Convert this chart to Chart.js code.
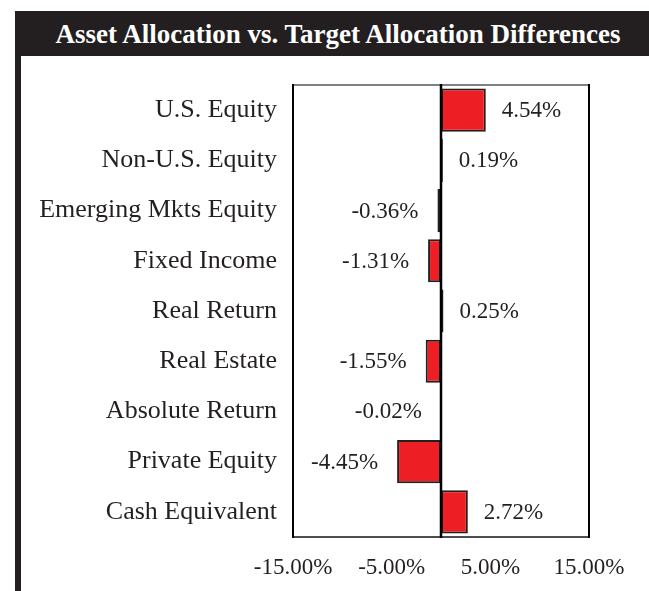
<!DOCTYPE html>
<html>
<head>
<meta charset="utf-8">
<script src="https://cdn.jsdelivr.net/npm/chart.js@4"></script>
<style>
    body { margin: 0; background: #ffffff; }
    #wrap { position: relative; width: 649px; height: 591px; overflow: hidden; }
    #titleBar {
        position: absolute; left: 15px; top: 11px; width: 634px; height: 45px;
        background: #231f20; color: #ffffff;
        font: bold 27px "Liberation Serif", "Times New Roman", serif;
        line-height: 46px; text-align: center; padding-left: 12px; box-sizing: border-box;
        white-space: nowrap;
    }
    #leftBar { position: absolute; left: 15px; top: 56px; width: 6px; height: 535px; background: #231f20; }
    #chart { position: absolute; left: 0; top: 0; }
</style>
</head>
<body>
<div id="wrap">
    <canvas id="chart" width="649" height="591"></canvas>
    <div id="titleBar">Asset Allocation vs. Target Allocation Differences</div>
    <div id="leftBar"></div>
</div>
<script>
const categories = ['U.S. Equity', 'Non-U.S. Equity', 'Emerging Mkts Equity', 'Fixed Income',
    'Real Return', 'Real Estate', 'Absolute Return', 'Private Equity', 'Cash Equivalent'];
const differences = [4.54, 0.19, -0.36, -1.31, 0.25, -1.55, -0.02, -4.45, 2.72];
const xTickValues = [-15, -5, 5, 15];

const textColor = '#231f20';
const serif = '"Liberation Serif", "Times New Roman", serif';

function pct(v) {
    return v.toFixed(2) + '%';
}

// box round the plot area plus the zero line
const frame = {
    id: 'frame',
    afterDatasetsDraw(chart) {
        const a = chart.chartArea;
        const ctx = chart.ctx;
        ctx.save();
        ctx.lineWidth = 2;
        ctx.strokeStyle = '#808080';
        ctx.beginPath(); ctx.moveTo(a.left, a.top); ctx.lineTo(a.right, a.top); ctx.stroke();
        ctx.strokeStyle = '#4d4d4d';
        ctx.beginPath(); ctx.moveTo(a.left, a.bottom); ctx.lineTo(a.right, a.bottom); ctx.stroke();
        ctx.strokeStyle = '#000000';
        ctx.beginPath(); ctx.moveTo(a.left, a.top - 1); ctx.lineTo(a.left, a.bottom + 1); ctx.stroke();
        ctx.beginPath(); ctx.moveTo(a.right, a.top - 1); ctx.lineTo(a.right, a.bottom + 1); ctx.stroke();
        const x0 = chart.scales.x.getPixelForValue(0);
        ctx.lineWidth = 2.5;
        ctx.beginPath(); ctx.moveTo(x0, a.top - 1); ctx.lineTo(x0, a.bottom + 1); ctx.stroke();
        ctx.restore();
    }
};

// value labels beside each bar
const barLabels = {
    id: 'barLabels',
    afterDatasetsDraw(chart) {
        const ctx = chart.ctx;
        const meta = chart.getDatasetMeta(0);
        ctx.save();
        ctx.font = '23px ' + serif;
        ctx.fillStyle = textColor;
        ctx.textBaseline = 'middle';
        meta.data.forEach((bar, i) => {
            const v = differences[i];
            if (v >= 0) {
                ctx.textAlign = 'left';
                ctx.fillText(pct(v), bar.x + 16, bar.y + 1);
            } else {
                ctx.textAlign = 'right';
                ctx.fillText(pct(v), bar.x - 19, bar.y + 1);
            }
        });
        ctx.restore();
    }
};

new Chart(document.getElementById('chart'), {
    type: 'bar',
    data: {
        labels: categories,
        datasets: [{
            data: differences,
            backgroundColor: '#ed1f24',
            borderColor: '#231f20',
            borderWidth: 2,
            borderSkipped: false,
            barPercentage: 0.86,
            categoryPercentage: 1
        }]
    },
    options: {
        indexAxis: 'y',
        responsive: false,
        animation: false,
        layout: { padding: { top: 85, right: 60, bottom: 0, left: 0 } },
        plugins: {
            legend: { display: false },
            tooltip: { enabled: false },
            title: { display: false }
        },
        scales: {
            x: {
                min: -15,
                max: 15,
                grid: { display: false, drawTicks: false },
                border: { display: false },
                afterBuildTicks: (scale) => {
                    scale.ticks = xTickValues.map(v => ({ value: v }));
                },
                afterFit: (scale) => { scale.height = 54; },
                ticks: {
                    padding: 17,
                    maxRotation: 0,
                    autoSkip: false,
                    color: textColor,
                    font: { family: serif, size: 23 },
                    callback: (v) => pct(v)
                }
            },
            y: {
                grid: { display: false, drawTicks: false },
                border: { display: false },
                afterFit: (scale) => { scale.width = 293; },
                ticks: {
                    padding: 16,
                    autoSkip: false,
                    color: textColor,
                    font: { family: serif, size: 26 }
                }
            }
        }
    },
    plugins: [frame, barLabels]
});
</script>
</body>
</html>
